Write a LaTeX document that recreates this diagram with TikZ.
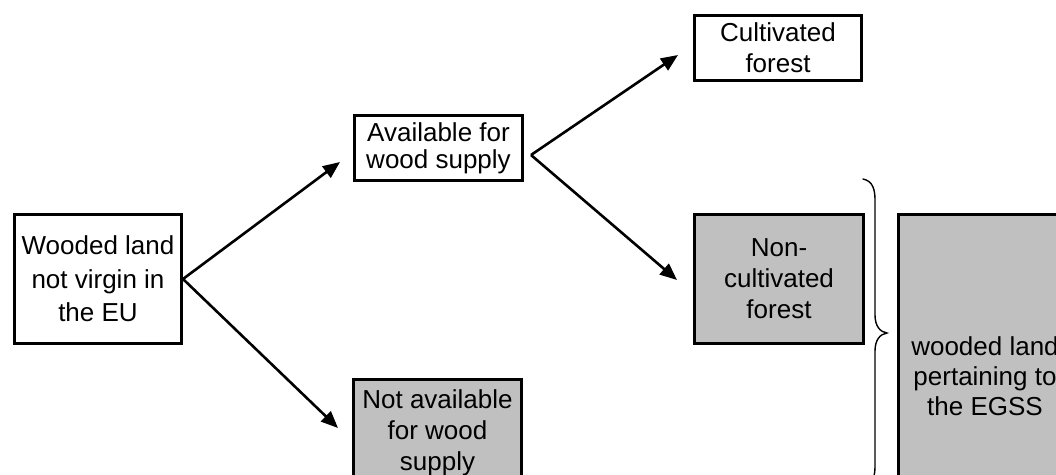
\documentclass[tikz,border=0pt]{standalone}
\usepackage{fontspec}
\setmainfont{Liberation Sans}
\usetikzlibrary{arrows.meta}
\definecolor{boxgray}{RGB}{192,192,192}

\begin{document}
\begin{tikzpicture}[x=1pt,y=-1pt,
  box/.style={draw=black, line width=3pt, inner sep=0pt, align=center,
              font=\fontsize{26}{31}\selectfont},
  shaded/.style={box, fill=boxgray},
  arr/.style={line width=2.6pt, -{Triangle[length=17pt,width=14pt]}},
  bracestroke/.style={line width=1.4pt, line cap=round}]

  \useasboundingbox (0,0) rectangle (1056,474);
  \clip (0,0) rectangle (1056,474);

  % boxes
  \node[box, minimum width=167pt, minimum height=129pt,
        font=\fontsize{26}{33.5}\selectfont] (land) at (98,279)
        {Wooded land\\not virgin in\\the EU};
  \node[box, minimum width=168pt, minimum height=65pt,
        font=\fontsize{26}{27}\selectfont] (avail) at (438.5,148)
        {Available for\\wood supply};
  \node[box, minimum width=167pt, minimum height=65pt] (cult) at (778,48)
        {Cultivated\\forest};
  \node[shaded, minimum width=169pt, minimum height=129pt] (noncult) at (779,279)
        {Non-\\cultivated\\forest};
  \node[shaded, minimum width=168pt, minimum height=106pt] (notavail) at (437.5,432.4)
        {Not available\\for wood\\supply};
  \node[shaded, minimum width=173pt, minimum height=322pt,
        font=\fontsize{26}{30}\selectfont] (egss) at (985,375.7)
        {wooded land\\pertaining to\\the EGSS};

  % arrow end points
  \coordinate (fork) at (531,155);
  \coordinate (tAvail) at (340,162);
  \coordinate (tNot) at (338,428);
  \coordinate (tCult) at (678,55);
  \coordinate (tNon) at (677,280);

  \draw[arr] (land.east) -- (tAvail);
  \draw[arr] (land.east) -- (tNot);
  \draw[arr] (fork) -- (tCult);
  \draw[arr] (fork) -- (tNon);

  % curly brace grouping the non-wood-supply categories
  \draw[bracestroke] (863,179) .. controls (873,181) and (875,190) .. (875,200)
    -- (875,315) .. controls (875,326) and (880,332) .. (887,333)
    .. controls (880,334) and (875,340) .. (875,351)
    -- (875,466) .. controls (875,476) and (873,485) .. (863,487);
\end{tikzpicture}
\end{document}
